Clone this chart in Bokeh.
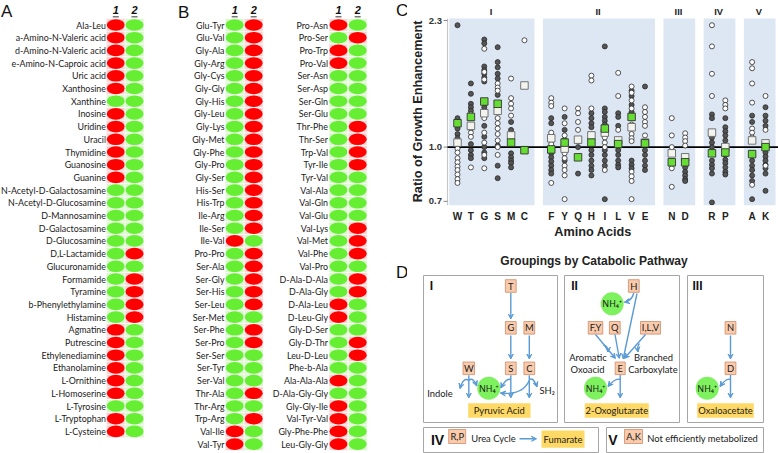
import math
from bokeh.plotting import figure
from bokeh.layouts import row, column
from bokeh.models import Range1d, FixedTicker, Arrow, VeeHead
from bokeh.core.properties import value
from bokeh.embed import file_html
from bokeh.resources import INLINE

# ------------------------------------------------------------------ data
# Panel A : compounds, growth status for condition 1 and 2 (R = red, G = green)
a_names = ["Ala-Leu", "a-Amino-N-Valeric acid", "d-Amino-N-Valeric acid", "e-Amino-N-Caproic acid",
           "Uric acid", "Xanthosine", "Xanthine", "Inosine", "Uridine", "Uracil", "Thymidine",
           "Guanosine", "Guanine", "N-Acetyl-D-Galactosamine", "N-Acetyl-D-Glucosamine",
           "D-Mannosamine", "D-Galactosamine", "D-Glucosamine", "D,L-Lactamide", "Glucuronamide",
           "Formamide", "Tyramine", "b-Phenylethylamine", "Histamine", "Agmatine", "Putrescine",
           "Ethylenediamine", "Ethanolamine", "L-Ornithine", "L-Homoserine", "L-Tyrosine",
           "L-Tryptophan", "L-Cysteine"]
a_col1 = list("RRRRRRGRRRRRR" "GGGGGGGGGGG" "RRRRRR" "G" "RR")
a_col2 = list("GGGGGGGGGGGGGGGGGG" "R" "G" "RRRR" "GGGGGGGGG")

# Panel B (left)
b1_names = ["Glu-Tyr", "Glu-Val", "Gly-Ala", "Gly-Arg", "Gly-Cys", "Gly-Gly", "Gly-His", "Gly-Leu",
            "Gly-Lys", "Gly-Met", "Gly-Phe", "Gly-Pro", "Gly-Ser", "His-Ser", "His-Trp", "Ile-Arg",
            "Ile-Ser", "Ile-Val", "Pro-Pro", "Ser-Ala", "Ser-Gly", "Ser-His", "Ser-Leu", "Ser-Met",
            "Ser-Phe", "Ser-Pro", "Ser-Ser", "Ser-Tyr", "Ser-Val", "Thr-Ala", "Thr-Arg", "Trp-Arg",
            "Val-Ile", "Val-Tyr"]
b1_col1 = list("GGGGGGGGGGGGGGGGG" "R" "GGGGGGGGGGGGGG" "RR")
b1_col2 = list("RRRRRRRRRRRRRRRRR" "G" "RRRRR" "G" "RR" "GGG" "R" "G" "R" "GG")

# Panel B (right)
b2_names = ["Pro-Asn", "Pro-Ser", "Pro-Trp", "Pro-Val", "Ser-Asn", "Ser-Asp", "Ser-Gln", "Ser-Glu",
            "Thr-Phe", "Thr-Ser", "Trp-Val", "Tyr-Ile", "Tyr-Val", "Val-Ala", "Val-Gln", "Val-Glu",
            "Val-Lys", "Val-Met", "Val-Phe", "Val-Pro", "D-Ala-D-Ala", "D-Ala-Gly", "D-Ala-Leu",
            "D-Leu-Gly", "Gly-D-Ser", "Gly-D-Thr", "Leu-D-Leu", "Phe-b-Ala", "Ala-Ala-Ala",
            "D-Ala-Gly-Gly", "Gly-Gly-Ile", "Val-Tyr-Val", "Gly-Phe-Phe", "Leu-Gly-Gly"]
b2_col1 = list("RGRR" "GGGGGGGGGGGGGGGGGG" "RR" "GGGG" "R" "G" "RRRR")
b2_col2 = list("GRGGGGGG" "RRRR" "GGGG" "RRR" "G" "RR" "GGG" "RR" "GGGGGGG")

for n, c1, c2 in ((a_names, a_col1, a_col2), (b1_names, b1_col1, b1_col2), (b2_names, b2_col1, b2_col2)):
    assert len(n) == len(c1) == len(c2)

# Panel C : catabolic groups and amino acids
group_names = ["I", "II", "III", "IV", "V"]
group_members = [["W", "T", "G", "S", "M", "C"],
                 ["F", "Y", "Q", "H", "I", "L", "V", "E"],
                 ["N", "D"], ["R", "P"], ["A", "K"]]
y_ticks = [0.7, 1.0, 2.3]

dark_pts = {
    "W": [2.23, 1.21, 1.18, 1.13, 1.09, 1.06],
    "T": [1.52, 1.42, 1.33, 1.30, 1.27, 1.02, 0.98, 0.95, 0.93],
    "G": [2.03, 1.98, 1.70, 1.66, 1.62, 1.58, 1.54, 1.30, 1.15, 1.07, 1.00, 0.965, 0.93],
    "S": [1.93, 1.75, 1.69, 1.62, 1.57, 1.41, 1.01, 0.885, 0.815],
    "M": [1.18, 1.12, 0.96, 0.935, 0.915, 0.90, 0.875],
    "C": [],
    "F": [1.21, 1.17, 0.96, 0.935, 0.91, 0.885, 0.86, 0.84],
    "Y": [1.22, 1.12, 1.05, 0.915],
    "Q": [1.00, 0.84],
    "H": [1.25, 1.21, 1.17, 1.14, 0.98, 0.95, 0.915, 0.885, 0.86, 0.83],
    "I": [1.94, 1.29, 1.26, 1.22, 1.19, 1.16, 0.98, 0.95, 0.915, 0.885, 0.71],
    "L": [1.25, 1.22, 1.15, 0.98, 0.95, 0.915, 0.89, 0.875],
    "V": [1.45, 1.40, 1.32, 1.26, 0.915, 0.89, 0.87],
    "E": [1.49, 0.98, 0.95, 0.915, 0.885, 0.86],
    "N": [],
    "D": [0.875, 0.85, 0.83, 0.81, 0.80],
    "R": [1.24, 1.21, 1.065, 1.03, 1.00, 0.915, 0.89, 0.87, 0.84, 0.695],
    "P": [1.21, 1.14, 1.11, 1.08, 1.045, 0.95, 0.92, 0.90, 0.875, 0.85, 0.835],
    "A": [1.23, 1.18, 0.915, 0.885, 0.86, 0.83, 0.80, 0.71],
    "K": [1.30, 1.23, 1.19, 1.15, 0.965, 0.94, 0.915, 0.89, 0.87, 0.84, 0.75],
}
white_pts = {
    "W": [0.99, 0.965, 0.93, 0.905, 0.88, 0.86, 0.835, 0.81, 0.79],
    "T": [1.24, 1.13, 1.10, 1.07, 0.875],
    "G": [1.91, 1.64, 1.56, 1.21, 1.10, 1.03, 0.95, 0.87],
    "S": [1.52, 1.48, 1.45, 1.21, 1.17, 1.13, 1.09, 1.045, 1.00, 0.95],
    "M": [1.57, 1.38, 1.33, 1.29, 1.23],
    "C": [2.02],
    "F": [1.38, 1.34, 1.31, 1.10, 1.02, 0.79],
    "Y": [1.29, 1.17, 1.08, 0.96, 0.93, 0.885, 0.86, 0.83, 0.71],
    "Q": [1.29, 1.25, 1.18, 1.12],
    "H": [1.60, 1.55, 1.29, 1.045],
    "I": [1.065, 1.03, 1.00, 0.86],
    "L": [1.63, 1.40, 1.12],
    "V": [1.49, 1.43, 1.36, 1.29, 1.16, 1.09, 1.06, 1.04, 0.85, 0.825, 0.80, 0.71],
    "E": [1.30, 1.26, 1.22, 1.18, 1.15, 1.08],
    "N": [1.21, 1.08, 1.00, 0.87, 0.77],
    "D": [1.095, 1.065, 1.04, 1.01],
    "R": [2.23, 1.94, 1.62, 1.40],
    "P": [1.36, 1.32, 1.29],
    "A": [1.75, 1.68, 1.52, 1.34, 1.13, 1.10, 1.065, 0.78],
    "K": [1.40, 1.12, 0.885],
}
green_mean = {"W": 1.17, "T": 1.22, "G": 1.35, "S": 1.33, "M": 1.03, "C": 0.98,
              "F": 0.985, "Y": 1.03, "Q": 0.935, "H": 1.03, "I": 1.13, "L": 1.02, "V": 1.22, "E": 1.025,
              "N": 0.905, "D": 0.905, "R": 0.96, "P": 0.965, "A": 0.955, "K": 1.00}
white_mean = {"W": 1.03, "T": 1.15, "G": 1.25, "S": 1.27, "M": 1.08, "C": 1.50,
              "F": 1.06, "Y": 0.99, "Q": 1.05, "H": 1.08, "I": 1.10, "L": 1.045, "V": 1.14, "E": 1.03,
              "N": 0.96, "D": 0.935, "R": 1.10, "P": 1.00, "A": 1.045, "K": 1.025}

# ------------------------------------------------------------------ styles
RED, GREEN = "#ff0000", "#66ee33"
RED_T, GREEN_T = "#f9d2d2", "#d9f6cc"
LABEL_FONT = "Lato"
BOLD_FONT = "Liberation Sans"


def base_fig(w, h, xr, yr):
    f = figure(width=w, height=h, x_range=xr, y_range=yr, output_backend="svg",
               toolbar_location=None, x_axis_location=None, y_axis_location=None,
               min_border=0, outline_line_color=None)
    f.grid.visible = False
    f.background_fill_color = "white"
    return f


# ------------------------------------------------------------------ Panels A & B
fab = base_fig(407, 453, Range1d(0, 407), Range1d(453, 0))
ROW0, ROWH = 24.5, 12.7
CW, EW, EH = 19.0, 18.0, 11.6


def draw_table(fig, names, col1, col2, x_lab, xc1, xc2):
    n = len(names)
    ys = [ROW0 + i * ROWH for i in range(n)]
    fig.text(x=[x_lab] * n, y=ys, text=names, text_align="right", text_baseline="middle",
             text_font=value(LABEL_FONT), text_font_size="8.9px", text_color="#1a1a1a")
    for xc, col in ((xc1, col1), (xc2, col2)):
        tint = [RED_T if s == "R" else GREEN_T for s in col]
        fill = [RED if s == "R" else GREEN for s in col]
        fig.rect(x=[xc] * n, y=ys, width=CW, height=ROWH, fill_color=tint, line_color="white",
                 line_width=0.6)
        fig.ellipse(x=[xc] * n, y=ys, width=EW, height=EH, fill_color=fill, line_color=None)
    # headers "1" "2"
    fig.text(x=[xc1, xc2], y=[ROW0 - 15.0] * 2, text=["1", "2"], text_align="center",
             text_baseline="middle", text_font=value(BOLD_FONT), text_font_style="bold italic",
             text_font_size="11px", text_color="#111")
    fig.segment(x0=[xc1 - 3, xc2 - 3], x1=[xc1 + 3, xc2 + 3], y0=[ROW0 - 8.3] * 2,
                y1=[ROW0 - 8.3] * 2, line_color="#777", line_width=1.4)


draw_table(fab, a_names, a_col1, a_col2, 105.5, 115.3, 134.0)
draw_table(fab, b1_names, b1_col1, b1_col2, 224.0, 234.2, 253.2)
draw_table(fab, b2_names, b2_col1, b2_col2, 327.5, 338.0, 357.2)
fab.text(x=[0.5, 177.5, 395.5, 395.5], y=[1.0, 2.0, 0.5, 262.0], text=["A", "B", "C", "D"],
         text_align="left", text_baseline="top",
         text_font=value(BOLD_FONT), text_font_size="17px", text_color="#111")

# ------------------------------------------------------------------ Panel C
positions, labels = [], []
grp_span = []
k = 0
for members in group_members:
    start = k
    for aa in members:
        positions.append(k)
        labels.append(aa)
        k += 1
    grp_span.append((start, k - 1))
    k += 1
pos = dict(zip(labels, positions))

XL, X0, X1 = -3.734, -0.747, 23.97      # figure left edge, axis position, right edge
Y0, Y1, YTOP = 0.681, 2.332, 2.624
UX = 1 / 13.39                          # one pixel in x data units
fc = figure(width=371, height=250, x_range=Range1d(XL, X1), y_range=Range1d(Y0, YTOP),
            y_axis_type="log", y_axis_location=None, output_backend="svg", toolbar_location=None,
            min_border_left=0, min_border_right=0, min_border_top=0, min_border_bottom=45,
            outline_line_color=None)
fc.grid.visible = False

# group bands
band_l = [s - 0.62 for s, e in grp_span]
band_r = [min(e + 0.75, X1 - 0.05) for s, e in grp_span]
fc.quad(left=band_l, right=band_r, bottom=[Y0] * 5, top=[Y1] * 5, fill_color="#dce7f3",
        line_color=None)
fc.text(x=[(s + e) / 2 for s, e in grp_span], y=[2.426] * 5, text=group_names,
        text_align="center", text_baseline="middle", text_font=value(BOLD_FONT),
        text_font_style="bold", text_font_size="9.3px", text_color="#222")

# y axis (log scale): line, ticks, tick labels and title
fc.segment(x0=[X0], x1=[X0], y0=[Y0], y1=[Y1], line_color="#c8c8c8", line_width=1.2)
fc.segment(x0=[X0 - 4 * UX] * 3, x1=[X0] * 3, y0=y_ticks, y1=y_ticks, line_color="#888888",
           line_width=1)
fc.text(x=[X0 - 5.5 * UX] * 3, y=y_ticks, text=["%.1f" % t for t in y_ticks], text_align="right",
        text_baseline="middle", text_font=value(BOLD_FONT), text_font_style="bold",
        text_font_size="9.5px", text_color="#333")
fc.text(x=[X0 - 29 * UX], y=[1.265], text=["Ratio of Growth Enhancement"], angle=math.pi / 2,
        text_align="center", text_baseline="middle", text_font=value(BOLD_FONT),
        text_font_style="bold", text_font_size="12.7px", text_color="#222")

# reference line at ratio 1.0
fc.segment(x0=[X0], x1=[X1], y0=[1.0], y1=[1.0], line_color="black", line_width=1.6)

dx, dy, wx, wy = [], [], [], []
for aa in labels:
    dx += [pos[aa]] * len(dark_pts[aa]); dy += dark_pts[aa]
    wx += [pos[aa]] * len(white_pts[aa]); wy += white_pts[aa]
fc.scatter(dx, dy, marker="circle", size=5, fill_color="#555555", line_color="#2a2a2a",
           line_width=0.8)
fc.scatter(wx, wy, marker="circle", size=5, fill_color="white", line_color="#2a2a2a",
           line_width=0.8)
fc.scatter([pos[a] for a in labels], [white_mean[a] for a in labels], marker="square", size=7.5,
           fill_color="#f4f4ee", line_color="#666666", line_width=0.9)
fc.scatter([pos[a] for a in labels], [green_mean[a] for a in labels], marker="square", size=7.5,
           fill_color="#66dd33", line_color="#333333", line_width=0.9)

fc.xaxis.ticker = FixedTicker(ticks=positions)
fc.xaxis.major_label_overrides = {p: a for p, a in zip(positions, labels)}
fc.xaxis.axis_line_color = None
fc.xaxis.major_tick_line_color = None
fc.xaxis.minor_tick_line_color = None
fc.xaxis.major_tick_out = 0
fc.xaxis.major_label_standoff = 5
fc.xaxis.major_label_text_font = BOLD_FONT
fc.xaxis.major_label_text_font_style = "bold"
fc.xaxis.major_label_text_font_size = "10px"
fc.xaxis.major_label_text_color = "#222"
fc.xaxis.axis_label = "Amino Acids"
fc.xaxis.axis_label_standoff = 0
fc.xaxis.axis_label_text_font = BOLD_FONT
fc.xaxis.axis_label_text_font_style = "bold"
fc.xaxis.axis_label_text_font_size = "12.7px"
fc.xaxis.axis_label_text_color = "#222"

# ------------------------------------------------------------------ Panel D (diagram)
fd = base_fig(371, 203, Range1d(407, 778), Range1d(453, 250))
BLUE = "#5b9bd5"
PEACH, PEACH_LINE = "#f8cbad", "#d08a66"
YELLOW = "#ffd966"
NH_GREEN = "#7ef25e"
TXT = dict(text_font=value(LABEL_FONT), text_font_size="9.4px", text_color="#1a1a1a",
           text_baseline="middle")

fd.text(x=[593.5], y=[260.5], text=["Groupings by Catabolic Pathway"], text_align="center",
        text_baseline="middle", text_font=value(BOLD_FONT), text_font_style="bold",
        text_font_size="12px", text_color="#222")

# frames
fd.quad(left=[423, 564, 687, 423, 606], right=[557, 679, 763, 598, 763],
        top=[275, 275, 275, 427, 427], bottom=[422, 422, 422, 452, 452],
        fill_color=None, line_color="#a6a6a6", line_width=1)

# yellow product boxes
prod = [("Pyruvic Acid", 467.7, 530.0, 402.7, 417.3), ("2-Oxoglutarate", 584.3, 648.3, 402.7, 417.3),
        ("Oxaloacetate", 696.7, 753.3, 402.7, 417.3), ("Fumarate", 541.0, 584.0, 430.0, 447.3)]
fd.quad(left=[p[1] for p in prod], right=[p[2] for p in prod], top=[p[3] for p in prod],
        bottom=[p[4] for p in prod], fill_color=YELLOW, line_color=None)
fd.text(x=[(p[1] + p[2]) / 2 for p in prod], y=[(p[3] + p[4]) / 2 for p in prod],
        text=[p[0] for p in prod], text_align="center", **TXT)

# amino-acid boxes
aa_boxes = [("T", 510.3, 285.5, 10.8), ("G", 510.3, 327.3, 10.8), ("M", 528.8, 327.3, 10.8),
            ("W", 468.3, 367.8, 11.5), ("S", 510.3, 367.8, 10.8), ("C", 528.8, 367.8, 10.8),
            ("H", 633.3, 285.5, 10.8), ("F,Y", 595.0, 327.3, 14.5), ("Q", 614.3, 327.3, 10.8),
            ("I,L,V", 650.0, 327.3, 20.0), ("E", 619.7, 367.8, 10.0), ("N", 730.0, 327.3, 10.8),
            ("D", 730.0, 367.8, 10.8), ("R,P", 456.7, 436.0, 17.0), ("A,K", 633.0, 436.0, 18.0)]
fd.rect(x=[b[1] for b in aa_boxes], y=[b[2] for b in aa_boxes], width=[b[3] for b in aa_boxes],
        height=[12.6] * 13 + [14.0, 14.0], fill_color=PEACH, line_color=PEACH_LINE, line_width=0.8)
fd.text(x=[b[1] for b in aa_boxes], y=[b[2] for b in aa_boxes], text=[b[0] for b in aa_boxes],
        text_align="center", **TXT)

# NH4+ circles
nh = [(488.3, 387.7), (611.7, 303.3), (595.0, 387.7), (706.7, 387.7)]
fd.scatter([c[0] for c in nh], [c[1] for c in nh], marker="circle", size=23,
           fill_color=NH_GREEN, line_color=None)
fd.text(x=[c[0] for c in nh], y=[c[1] for c in nh], text=["NH\u2084\u207a"] * 4, text_align="center",
        text_font=value("Noto Sans"), text_font_size="9px", text_color="#1a1a1a",
        text_baseline="middle")

# side texts
side = [("Indole", 439.5, 393.3, "center"), ("SH\u2082", 539.0, 390.0, "left"),
        ("Aromatic", 587.5, 357.0, "center"), ("Oxoacid", 587.0, 368.7, "center"),
        ("Branched", 653.0, 357.0, "center"), ("Carboxylate", 652.5, 368.7, "center"),
        ("Urea Cycle", 470.7, 437.8, "left"), ("Not efficiently metabolized", 646.7, 437.8, "left")]
for t, x, y, al in side:
    fd.text(x=[x], y=[y], text=[t], text_align=al, **TXT)

romans = [("I", 431.0, 285.0, "12px"), ("II", 574.0, 285.0, "12px"), ("III", 697.0, 285.0, "12px"),
          ("IV", 437.0, 439.5, "14px"), ("V", 612.5, 439.5, "14px")]
for t, x, y, fs in romans:
    fd.text(x=[x], y=[y], text=[t], text_align="center", text_baseline="middle",
            text_font=value(BOLD_FONT), text_font_style="bold", text_font_size=fs,
            text_color="#111")


def arrow(x0, y0, x1, y1):
    fd.add_layout(Arrow(end=VeeHead(size=5, line_color=BLUE, fill_color=BLUE, line_width=1),
                        x_start=x0, y_start=y0, x_end=x1, y_end=y1,
                        line_color=BLUE, line_width=1.4))


def curve(x0, y0, cx, cy, x1, y1):
    fd.quadratic(x0=[x0], y0=[y0], cx=[cx], cy=[cy], x1=[x1], y1=[y1], line_color=BLUE,
                 line_width=1.4)
    arrow(x1 - 0.25 * (x1 - cx), y1 - 0.25 * (y1 - cy), x1, y1)


# group I
arrow(510.3, 292.5, 510.3, 318.5)
arrow(510.3, 335.0, 510.3, 358.5)
arrow(528.8, 335.0, 528.8, 358.5)
for sx in (468.3, 510.3, 528.8):
    arrow(sx, 374.8, sx, 397.5)
curve(468.3, 380.0, 463.0, 376.0, 459.5, 388.0)
curve(468.3, 380.0, 472.5, 376.0, 476.3, 385.5)
curve(510.3, 379.0, 506.0, 377.0, 500.3, 387.5)
curve(528.8, 379.0, 533.0, 376.5, 536.5, 386.5)
curve(528.8, 380.0, 522.0, 395.0, 500.0, 392.5)
# group II
curve(633.3, 292.5, 631.5, 300.0, 624.0, 301.8)
arrow(636.5, 293.0, 622.7, 358.5)
arrow(595.0, 334.0, 615.0, 358.0)
curve(603.0, 344.5, 607.5, 345.5, 607.5, 351.5)
arrow(614.5, 334.0, 618.8, 358.0)
arrow(645.0, 334.0, 623.8, 358.0)
curve(639.0, 343.0, 636.5, 345.0, 637.5, 351.5)
arrow(619.7, 374.5, 619.7, 397.5)
curve(619.7, 379.0, 615.0, 377.0, 607.5, 386.0)
# group III
arrow(730.0, 335.0, 730.0, 358.5)
arrow(730.0, 374.5, 730.0, 397.5)
curve(730.0, 379.0, 726.0, 377.0, 719.5, 386.0)
# group IV
arrow(519.0, 438.3, 536.0, 438.3)

layout = row(fab, column(fc, fd))
open("out.html", "w").write(file_html(layout, INLINE))
